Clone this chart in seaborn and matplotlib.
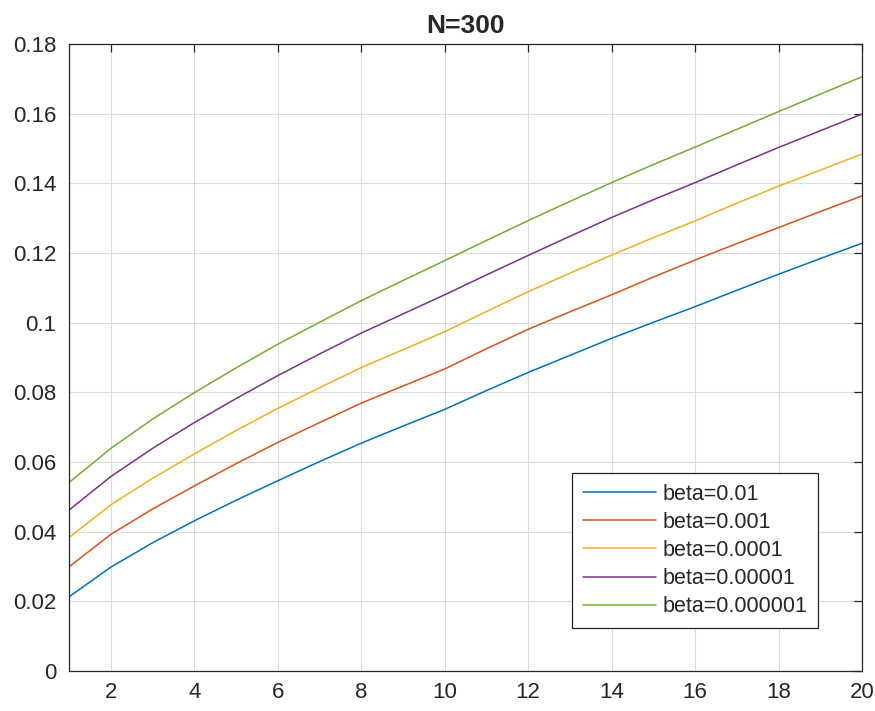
import matplotlib
matplotlib.use("Agg")
import matplotlib.pyplot as plt
import seaborn as sns
import pandas as pd
from matplotlib.ticker import FuncFormatter

x = list(range(1, 21))
beta_labels = ["beta=0.01", "beta=0.001", "beta=0.0001", "beta=0.00001", "beta=0.000001"]
beta_001 = [.0213, .0298, .0368, .0431, .0490, .0546, .0601, .0654, .0703, .0751,
            .0805, .0857, .0906, .0955, .1001, .1046, .1093, .1139, .1184, .1228]
beta_0001 = [.0299, .0392, .0465, .0531, .0595, .0656, .0713, .0769, .0818, .0867,
             .0925, .0981, .1031, .1080, .1131, .1180, .1227, .1273, .1319, .1364]
beta_00001 = [.0383, .0477, .0553, .0623, .0690, .0754, .0813, .0871, .0922, .0974,
              .1032, .1089, .1142, .1194, .1244, .1292, .1343, .1392, .1438, .1484]
beta_000001 = [.0462, .0558, .0639, .0713, .0782, .0848, .0910, .0970, .1025, .1080,
               .1137, .1193, .1248, .1302, .1353, .1402, .1453, .1503, .1551, .1599]
beta_0000001 = [.0541, .0639, .0723, .0799, .0870, .0938, .1001, .1063, .1121, .1178,
                .1236, .1293, .1348, .1402, .1454, .1504, .1555, .1606, .1656, .1706]
series = [beta_001, beta_0001, beta_00001, beta_000001, beta_0000001]
colors = ["#0072BD", "#D95319", "#EDB120", "#7E2F8E", "#77AC30"]
x_ticks = [2, 4, 6, 8, 10, 12, 14, 16, 18, 20]
y_ticks = [0, 0.02, 0.04, 0.06, 0.08, 0.1, 0.12, 0.14, 0.16, 0.18]

rows = []
for lab, vals in zip(beta_labels, series):
    for xi, v in zip(x, vals):
        rows.append({"x": xi, "y": v, "beta": lab})
df = pd.DataFrame(rows)

sns.set_style("white")
plt.rcParams["font.family"] = ["Liberation Sans", "DejaVu Sans"]

fig = plt.figure(figsize=(8.75, 7.11), dpi=100)
ax = fig.add_axes([0.0789, 0.0563, 0.9063, 0.8818])
sns.lineplot(data=df, x="x", y="y", hue="beta", hue_order=beta_labels,
             palette=colors, ax=ax, linewidth=1.1, estimator=None)

ax.set_xlim(1, 20)
ax.set_ylim(0, 0.18)
ax.set_xticks(x_ticks)
ax.set_yticks(y_ticks)
ax.yaxis.set_major_formatter(FuncFormatter(lambda v, p: "%g" % round(v, 4)))
ax.set_xlabel("")
ax.set_ylabel("")
ax.grid(True, color="#dcdcdc", linewidth=0.8)
ax.set_axisbelow(True)
for s in ax.spines.values():
    s.set_color("#262626")
    s.set_linewidth(0.9)
    s.set_visible(True)
ax.tick_params(direction="in", top=True, right=True, length=6, width=0.9,
               color="#262626", labelcolor="#262626", labelsize=16)
ax.tick_params(axis="y", pad=9)
ax.tick_params(axis="x", pad=8)
ax.set_title("N=300", fontsize=19, fontweight="bold", pad=8)

leg = ax.legend(loc="lower right", bbox_to_anchor=(0.9445, 0.0686), fontsize=15.5,
                frameon=True, fancybox=False, shadow=False, framealpha=1,
                edgecolor="#262626", handlelength=3.4, borderpad=0.5,
                labelspacing=0.33, handletextpad=0.3, borderaxespad=0)
leg.get_frame().set_linewidth(0.9)

fig.savefig("out.png", dpi=100)
